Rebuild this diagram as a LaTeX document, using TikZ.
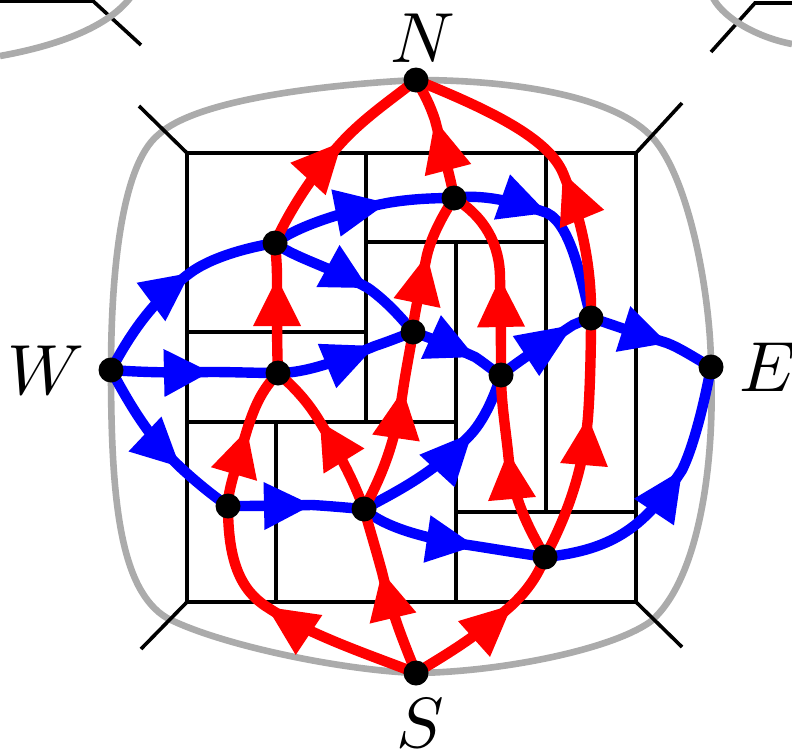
\documentclass[tikz,border=0pt]{standalone}
\usetikzlibrary{calc}
\pgfdeclarelayer{bg}
\pgfsetlayers{bg,main}
\tikzset{
  pt/.style={circle,fill=black,draw=none,minimum size=12.5pt,inner sep=0pt},
  lab/.style={inner sep=0pt,scale=3.55},
  edgeb/.style={draw=blue,line width=5.2pt},
  edger/.style={draw=red,line width=5.2pt},
  grayb/.style={draw=black!33,line width=3.3pt},
  wall/.style={draw=black,line width=1.8pt},
  stub/.style={draw=black,line width=1.8pt},
}
% arrowhead: colour, base centre, tip
\newcommand\headtri[3]{\fill[#1] (#3) -- ($(#2)!12pt!90:(#3)$) -- ($(#2)!12pt!-90:(#3)$) -- cycle;}
% connector with head: style/colour, start, c1, base, tip, c3, c4, end
\newcommand\conn[8]{\draw[#1] (#2.center) .. controls (#3) and (#4) .. (#5) .. controls (#6) and (#7) .. (#8.center);
  \headtri{\ifx#1edgeb blue\else red\fi}{#4}{#5}}
\begin{document}
\begin{tikzpicture}[x=0.5pt,y=-0.5pt]
\useasboundingbox (0,0) rectangle (792,755);
% vertices
\node[pt] (N) at (416,80) {};
\node[pt] (S) at (416,673) {};
\node[pt] (W) at (111,370) {};
\node[pt] (E) at (711,367) {};
\node[pt] (a) at (275,243) {};
\node[pt] (b) at (454,198) {};
\node[pt] (c) at (591,318) {};
\node[pt] (d) at (413,332) {};
\node[pt] (e) at (501,375) {};
\node[pt] (f) at (278,373) {};
\node[pt] (g) at (228,506) {};
\node[pt] (h) at (364,509) {};
\node[pt] (i) at (545,557) {};
% labels
\node[lab] (lN) at (423,38) {$N$};
\node[lab] (lS) at (420,723) {$S$};
\node[lab] (lW) at (46,370) {$W$};
\node[lab] (lE) at (768,367) {$E$};
% rectangle corners
\coordinate (tl) at (187,153);
\coordinate (tr) at (636,153);
\coordinate (bl) at (187,602);
\coordinate (br) at (636,602);
\coordinate (stl) at (139,106);
\coordinate (str) at (682,103);
\coordinate (sbl) at (141,649);
\coordinate (sbr) at (682,647);
\begin{pgfonlayer}{bg}
% outer grey boundary
\draw[grayb] (W.center) .. controls (111,270) and (122,165) .. (158,135)
  .. controls (195,100) and (320,85) .. (N.center)
  .. controls (510,80) and (610,95) .. (650,135)
  .. controls (690,175) and (711,300) .. (E.center)
  .. controls (715,460) and (700,580) .. (650,622)
  .. controls (610,650) and (500,672) .. (S.center)
  .. controls (340,670) and (220,645) .. (167,618)
  .. controls (120,590) and (111,500) .. (W.center);
% neighbouring cells at the top corners
\draw[stub] (0,1) -- (93,1) -- (141,45);
\draw[stub] (792,3) -- (755,3) -- (711,52);
\draw[grayb] (0,56) .. controls (50,47) and (105,30) .. (130,-2);
\draw[grayb] (713,-2) .. controls (725,20) and (760,38) .. (792,44);
% rectangle
\draw[wall] (tl) rectangle (br);
\draw[wall] (366,153) -- (366,422);
\draw[wall] (187,332) -- (366,332);
\draw[wall] (187,422) -- (456,422);
\draw[wall] (366,242) -- (546,242);
\draw[wall] (456,242) -- (456,602);
\draw[wall] (546,153) -- (546,512);
\draw[wall] (456,512) -- (636,512);
\draw[wall] (276,422) -- (276,602);
\draw[stub] (tl) -- (stl);
\draw[stub] (tr) -- (str);
\draw[stub] (bl) -- (sbl);
\draw[stub] (br) -- (sbr);
% blue
\draw[edgeb] (W.center) .. controls (130,335) and (151,302) .. (190,273) .. controls (210,258) and (245,248) .. (a.center);
\headtri{blue}{151,302}{190,273}
\draw[edgeb] (W.center) .. controls (140,372) and (164,373) .. (210,372) .. controls (235,372) and (255,373) .. (f.center);
\headtri{blue}{164,373}{210,372}
\draw[edgeb] (W.center) .. controls (125,395) and (145,434) .. (180,467) .. controls (195,481) and (212,495) .. (g.center);
\headtri{blue}{145,434}{180,467}
\draw[edgeb] (a.center) .. controls (295,228) and (336,213) .. (387,203) .. controls (410,199) and (432,198) .. (b.center);
\headtri{blue}{336,213}{387,203}
\draw[edgeb] (a.center) .. controls (295,258) and (328,266) .. (368,288) .. controls (385,300) and (400,316) .. (d.center);
\headtri{blue}{328,266}{368,288}
\draw[edgeb] (f.center) .. controls (300,373) and (327,366) .. (375,346) .. controls (390,341) and (402,336) .. (d.center);
\headtri{blue}{327,366}{375,346}
\draw[edgeb] (b.center) .. controls (475,195) and (502,197) .. (547,213) .. controls (572,225) and (582,285) .. (c.center);
\headtri{blue}{502,197}{547,213}
\draw[edgeb] (d.center) .. controls (420,335) and (431,337) .. (475,357) .. controls (483,362) and (492,370) .. (e.center);
\headtri{blue}{431,337}{475,357}
\draw[edgeb] (e.center) .. controls (510,368) and (526,356) .. (573,325) .. controls (580,322) and (585,320) .. (c.center);
\headtri{blue}{526,356}{573,325}
\draw[edgeb] (c.center) .. controls (605,322) and (623,329) .. (667,343) .. controls (680,348) and (695,358) .. (E.center);
\headtri{blue}{623,329}{667,343}
\draw[edgeb] (h.center) .. controls (400,490) and (437,471) .. (472,433) .. controls (485,418) and (495,395) .. (e.center);
\headtri{blue}{437,471}{472,433}
\draw[edgeb] (g.center) .. controls (245,506) and (264,506) .. (312,505) .. controls (330,506) and (350,508) .. (h.center);
\headtri{blue}{264,506}{312,505}
\draw[edgeb] (h.center) .. controls (385,528) and (427,539) .. (475,546) .. controls (500,550) and (525,554) .. (i.center);
\headtri{blue}{427,539}{475,546}
\draw[edgeb] (i.center) .. controls (615,550) and (646,525) .. (682,470) .. controls (692,450) and (703,410) .. (E.center);
\headtri{blue}{654,512}{682,470}
% red
\draw[edger] (S.center) .. controls (370,655) and (309,635) .. (267,607) .. controls (240,590) and (228,560) .. (g.center);
\headtri{red}{309,635}{267,607}
\draw[edger] (g.center) .. controls (228,490) and (234,474) .. (247,430) .. controls (255,405) and (262,390) .. (f.center);
\headtri{red}{234,474}{247,430}
\draw[edger] (h.center) .. controls (355,485) and (344,461) .. (320,422) .. controls (308,402) and (295,388) .. (f.center);
\headtri{red}{344,461}{320,422}
\draw[edger] (f.center) .. controls (277,350) and (277,326) .. (277,278) .. controls (277,265) and (276,255) .. (a.center);
\headtri{red}{277,326}{277,278}
\draw[edger] (a.center) .. controls (285,220) and (308,179) .. (342,142) .. controls (365,117) and (395,97) .. (N.center);
\headtri{red}{308,179}{342,142}
\draw[edger] (S.center) .. controls (405,645) and (393,618) .. (382,572) .. controls (376,550) and (370,530) .. (h.center);
\headtri{red}{393,618}{382,572}
\draw[edger] (h.center) .. controls (385,470) and (396,438) .. (403,390) .. controls (406,370) and (410,350) .. (d.center);
\headtri{red}{396,438}{403,390}
\draw[edger] (d.center) .. controls (413,320) and (417,303) .. (427,255) .. controls (432,235) and (443,215) .. (b.center);
\headtri{red}{417,303}{427,255}
\draw[edger] (S.center) .. controls (445,655) and (474,639) .. (512,605) .. controls (528,590) and (538,575) .. (i.center);
\headtri{red}{474,639}{512,605}
\draw[edger] (i.center) .. controls (530,530) and (512,499) .. (508,452) .. controls (505,425) and (501,400) .. (e.center);
\headtri{red}{512,499}{508,452}
\draw[edger] (i.center) .. controls (570,510) and (584,465) .. (588,417) .. controls (590,390) and (591,350) .. (c.center);
\headtri{red}{584,465}{588,417}
\draw[edger] (e.center) .. controls (501,350) and (501,327) .. (500,278) .. controls (500,245) and (485,217) .. (b.center);
\headtri{red}{501,327}{500,278}
\draw[edger] (c.center) .. controls (592,270) and (582,219) .. (563,173) .. controls (548,138) and (490,110) .. (N.center);
\headtri{red}{582,219}{563,173}
\draw[edger] (b.center) .. controls (452,185) and (448,170) .. (435,120) .. controls (430,105) and (425,95) .. (N.center);
\headtri{red}{448,170}{435,120}
\end{pgfonlayer}
\end{tikzpicture}
\end{document}
